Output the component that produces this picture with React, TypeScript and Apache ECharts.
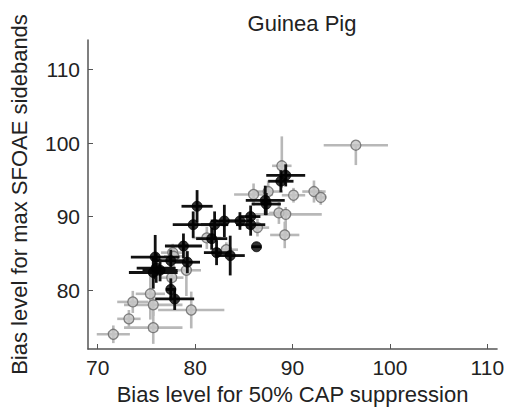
import React, { useEffect, useRef } from "react";
import * as echarts from "echarts";

const title = "Guinea Pig";
const xName = "Bias level for 50% CAP suppression";
const yName = "Bias level for max SFOAE sidebands";
const xTicks = [70, 80, 90, 100, 110];
const yTicks = [80, 90, 100, 110];

// black group: x, y, symmetric x error, symmetric y error
const blackX = [80.2, 79.8, 82.0, 83.0, 84.6, 85.7, 85.7, 87.2, 87.3, 88.8, 89.3, 81.7, 82.2, 83.6, 86.3, 78.8, 77.5, 75.9, 76.0, 76.4, 75.7, 77.5, 77.9, 79.2];
const blackY = [91.4, 88.9, 88.9, 89.4, 89.4, 90.0, 88.9, 92.2, 91.7, 94.8, 95.6, 87.0, 85.1, 84.7, 85.9, 86.0, 84.0, 84.5, 83.0, 82.7, 82.4, 80.1, 78.8, 83.8];
const blackXErr = [1.6, 2.1, 1.4, 1.4, 1.2, 1.0, 1.5, 2.0, 1.5, 1.3, 2.0, 1.6, 1.3, 1.5, 0.5, 1.9, 1.5, 2.5, 2.0, 1.8, 2.5, 0.5, 2.0, 1.3];
const blackYErr = [2.2, 1.8, 1.8, 2.2, 1.2, 1.5, 1.5, 2.0, 1.5, 1.5, 1.5, 1.5, 1.7, 2.7, 0.0, 1.7, 1.5, 3.0, 2.0, 1.5, 2.2, 1.5, 1.5, 1.5];

// grey group: x, y, x error, y error below, y error above
const greyX = [96.5, 88.9, 87.5, 90.1, 92.2, 92.9, 88.6, 89.3, 89.2, 86.4, 81.2, 77.7, 77.6, 79.1, 75.4, 73.6, 75.7, 79.6, 73.2, 75.7, 71.6, 83.2, 86.0, 77.8];
const greyY = [99.7, 96.9, 93.4, 92.9, 93.4, 92.6, 90.5, 90.3, 87.5, 88.5, 87.1, 85.1, 81.7, 82.7, 79.5, 78.4, 78.0, 77.3, 76.1, 74.9, 74.0, 85.5, 93.0, 84.6];
const greyXErr = [3.3, 1.0, 1.5, 1.2, 1.2, 0.6, 1.0, 3.7, 1.5, 1.2, 1.5, 1.2, 1.2, 1.5, 1.5, 1.6, 3.0, 3.4, 1.2, 3.0, 1.7, 1.2, 2.0, 1.0];
const greyYErrDown = [2.7, 3.0, 1.5, 1.0, 1.5, 1.0, 1.5, 3.0, 1.8, 1.2, 1.5, 1.2, 1.5, 3.5, 3.5, 1.5, 1.5, 2.5, 1.2, 2.2, 1.2, 1.0, 1.5, 1.5];
const greyYErrUp = [0.0, 4.0, 1.5, 1.0, 1.5, 1.0, 1.5, 1.0, 1.8, 1.2, 1.5, 1.2, 1.5, 3.5, 3.5, 1.5, 1.5, 2.5, 1.2, 2.2, 1.2, 1.0, 1.5, 1.5];

const FONT = "Liberation Sans";

function errorSeries(rows: number[][], color: string, width: number, z: number) {
  return {
    type: "custom",
    z,
    silent: true,
    renderItem: (params: any, api: any) => {
      const x = api.value(0);
      const y = api.value(1);
      const xe = api.value(2);
      const yd = api.value(3);
      const yu = api.value(4);
      const l = api.coord([x - xe, y]);
      const r = api.coord([x + xe, y]);
      const b = api.coord([x, y - yd]);
      const t = api.coord([x, y + yu]);
      const style = { stroke: color, lineWidth: width };
      return {
        type: "group",
        children: [
          { type: "line", shape: { x1: l[0], y1: l[1], x2: r[0], y2: r[1] }, style },
          { type: "line", shape: { x1: t[0], y1: t[1], x2: b[0], y2: b[1] }, style },
        ],
      };
    },
    encode: { x: 0, y: 1 },
    data: rows,
  };
}

export default function App() {
  const ref = useRef<HTMLDivElement>(null);
  useEffect(() => {
    if (!ref.current) return;
    const chart = echarts.init(ref.current, undefined, { renderer: "svg" });
    const blackRows = blackX.map((x, i) => [x, blackY[i], blackXErr[i], blackYErr[i], blackYErr[i]]);
    const greyRows = greyX.map((x, i) => [x, greyY[i], greyXErr[i], greyYErrDown[i], greyYErrUp[i]]);
    const axisColor = "#555";
    chart.setOption({
      animation: false,
      backgroundColor: "#fff",
      title: {
        text: title,
        left: 297,
        top: 7,
        textAlign: "center",
        textStyle: { fontFamily: FONT, fontSize: 22, fontWeight: "normal", color: "#222" },
      },
      grid: { left: 85, right: 9, top: 40, bottom: 57 },
      xAxis: {
        type: "value",
        min: 69,
        max: 111,
        name: xName,
        nameLocation: "middle",
        nameGap: 34,
        nameTextStyle: { fontFamily: FONT, fontSize: 22, color: "#222" },
        axisLine: { show: true, onZero: false, lineStyle: { color: axisColor, width: 1.5 } },
        axisTick: { show: true, inside: true, length: 5, customValues: xTicks, lineStyle: { color: axisColor } },
        axisLabel: { customValues: xTicks, fontFamily: FONT, fontSize: 21, color: "#222", margin: 8 },
        splitLine: { show: false },
      },
      yAxis: {
        type: "value",
        min: 72,
        max: 114,
        name: yName,
        nameLocation: "middle",
        nameGap: 58,
        nameTextStyle: { fontFamily: FONT, fontSize: 22, color: "#222" },
        axisLine: { show: true, onZero: false, lineStyle: { color: axisColor, width: 1.5 } },
        axisTick: { show: true, inside: true, length: 5, customValues: yTicks, lineStyle: { color: axisColor } },
        axisLabel: { customValues: yTicks, fontFamily: FONT, fontSize: 21, color: "#222", margin: 8 },
        splitLine: { show: false },
      },
      series: [
        errorSeries(greyRows, "#b8b8b8", 2.6, 1),
        {
          type: "scatter",
          z: 2,
          symbol: "circle",
          symbolSize: 10,
          itemStyle: { color: "#c4c4c4", borderColor: "#666", borderWidth: 1.3 },
          data: greyRows.map((r) => [r[0], r[1]]),
        },
        errorSeries(blackRows, "#111", 2.8, 3),
        {
          type: "scatter",
          z: 4,
          symbol: "circle",
          symbolSize: 10,
          itemStyle: { color: "#000", borderColor: "#000", borderWidth: 1 },
          data: blackRows.map((r) => [r[0], r[1]]),
        },
      ],
    });
    return () => chart.dispose();
  }, []);
  return <div ref={ref} style={{ position: "absolute", left: 0, top: 0, width: 507, height: 410 }} />;
}
